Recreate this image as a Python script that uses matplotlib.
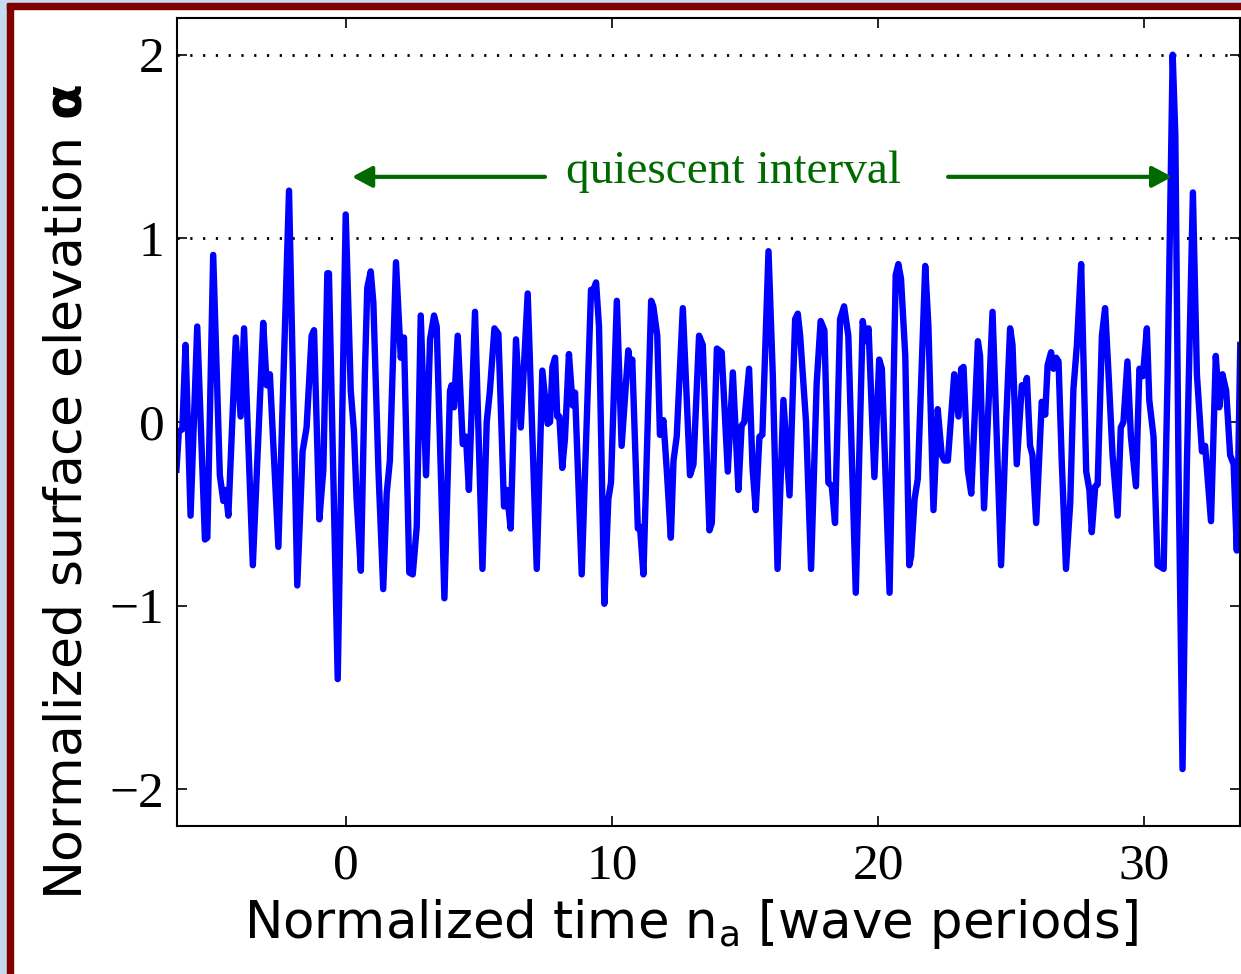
import matplotlib
matplotlib.use("Agg")
from matplotlib import pyplot as plt
from matplotlib.patches import Rectangle

# normalized time (wave periods) and surface elevation
t_periods = [
    -6.37, -6.28, -6.15, -6.03, -5.84, -5.59, -5.30, -5.21, -4.99, -4.74,
    -4.61, -4.52, -4.42, -4.14, -3.96, -3.83, -3.50, -3.11, -2.98, -2.86,
    -2.54, -2.14, -1.83, -1.63, -1.48, -1.29, -1.20, -1.00, -0.85, -0.70,
    -0.64, -0.31, -0.01, 0.18, 0.30, 0.40, 0.56, 0.71, 0.80, 0.93,
    1.03, 1.22, 1.40, 1.53, 1.65, 1.88, 2.06, 2.18, 2.38, 2.51,
    2.66, 2.81, 3.01, 3.16, 3.31, 3.41, 3.70, 3.91, 3.97, 4.06,
    4.20, 4.39, 4.51, 4.62, 4.85, 5.13, 5.29, 5.41, 5.58, 5.73,
    5.94, 6.04, 6.19, 6.39, 6.57, 6.83, 7.17, 7.38, 7.58, 7.67,
    7.76, 7.86, 7.94, 8.02, 8.13, 8.23, 8.38, 8.52, 8.61, 8.86,
    9.21, 9.30, 9.40, 9.51, 9.71, 9.86, 9.96, 10.18, 10.36, 10.61,
    10.68, 10.76, 10.97, 11.05, 11.18, 11.47, 11.55, 11.70, 11.80, 11.93,
    12.06, 12.21, 12.31, 12.43, 12.66, 12.93, 13.06, 13.27, 13.41, 13.66,
    13.75, 13.94, 14.12, 14.35, 14.54, 14.75, 14.87, 14.97, 15.15, 15.28,
    15.40, 15.54, 15.65, 15.88, 16.04, 16.22, 16.44, 16.67, 16.88, 16.98,
    17.07, 17.29, 17.48, 17.69, 17.84, 17.98, 18.13, 18.26, 18.38, 18.57,
    18.72, 18.88, 19.16, 19.42, 19.54, 19.64, 19.86, 20.04, 20.14, 20.43,
    20.66, 20.76, 20.86, 21.02, 21.17, 21.24, 21.37, 21.49, 21.77, 21.89,
    22.08, 22.24, 22.39, 22.49, 22.62, 22.86, 23.02, 23.12, 23.21, 23.37,
    23.50, 23.62, 23.75, 23.83, 23.98, 24.30, 24.62, 24.81, 24.96, 25.05,
    25.21, 25.40, 25.49, 25.59, 25.71, 25.80, 25.94, 26.15, 26.28, 26.37,
    26.50, 26.59, 26.69, 26.78, 26.90, 27.06, 27.22, 27.34, 27.47, 27.63,
    27.82, 27.94, 28.03, 28.16, 28.25, 28.41, 28.53, 28.66, 28.81, 29.00,
    29.12, 29.22, 29.37, 29.50, 29.69, 29.82, 29.95, 30.10, 30.19, 30.35,
    30.50, 30.63, 30.73, 30.88, 31.07, 31.17, 31.29, 31.44, 31.60, 31.83,
    31.98, 32.17, 32.29, 32.51, 32.69, 32.82, 32.94, 33.08, 33.23, 33.36,
    33.48, 33.61,
]
elevation = [
    -0.26, -0.05, -0.04, 0.42, -0.51, 0.52, -0.64, -0.63, 0.91, -0.29,
    -0.43, -0.37, -0.51, 0.46, 0.03, 0.51, -0.78, 0.54, 0.20, 0.26,
    -0.68, 1.26, -0.89, -0.16, -0.03, 0.47, 0.50, -0.53, -0.26, 0.81,
    0.81, -1.40, 1.13, 0.17, -0.05, -0.42, -0.81, 0.26, 0.73, 0.82,
    0.65, -0.26, -0.91, -0.39, -0.21, 0.87, 0.35, 0.46, -0.82, -0.83,
    -0.57, 0.58, -0.29, 0.45, 0.58, 0.52, -0.96, 0.17, 0.20, 0.08,
    0.47, -0.12, -0.08, -0.37, 0.60, -0.80, 0.00, 0.17, 0.51, 0.48,
    -0.46, -0.37, -0.58, 0.45, -0.03, 0.70, -0.80, 0.28, -0.01, 0.00,
    0.30, 0.35, 0.03, 0.03, -0.25, -0.09, 0.37, 0.09, 0.16, -0.83,
    0.72, 0.72, 0.76, 0.52, -0.99, -0.42, -0.33, 0.66, -0.13, 0.39,
    0.30, 0.34, -0.58, -0.57, -0.83, 0.66, 0.63, 0.47, -0.07, 0.01,
    -0.27, -0.63, -0.21, -0.08, 0.62, -0.29, -0.23, 0.47, 0.42, -0.59,
    -0.55, 0.40, 0.38, -0.27, 0.27, -0.37, -0.02, 0.00, 0.29, -0.25,
    -0.48, -0.08, -0.07, 0.93, 0.26, -0.80, 0.12, -0.40, 0.56, 0.59,
    0.47, 0.00, -0.80, 0.21, 0.55, 0.50, -0.33, -0.35, -0.55, 0.56,
    0.63, 0.47, -0.93, 0.55, 0.44, 0.51, -0.30, 0.34, 0.29, -0.93,
    0.80, 0.86, 0.78, 0.36, -0.78, -0.73, -0.42, -0.31, 0.85, 0.52,
    -0.48, 0.07, -0.18, -0.21, -0.21, 0.26, 0.03, 0.29, 0.30, -0.26,
    -0.39, 0.00, 0.44, 0.36, -0.47, 0.60, -0.78, 0.00, 0.51, 0.42,
    -0.23, 0.20, 0.16, 0.24, -0.13, -0.18, -0.55, 0.11, 0.04, 0.31,
    0.38, 0.29, 0.35, 0.33, -0.21, -0.80, -0.44, 0.18, 0.42, 0.86,
    -0.27, -0.37, -0.60, -0.35, -0.34, 0.47, 0.62, 0.26, -0.18, -0.51,
    -0.03, 0.00, 0.33, -0.08, -0.35, 0.29, 0.25, 0.51, 0.12, -0.08,
    -0.78, -0.79, -0.80, 0.26, 2.00, 1.56, -0.26, -1.89, -0.26, 1.25,
    0.26, -0.16, -0.13, -0.54, 0.36, 0.08, 0.26, 0.17, -0.18, -0.23,
    -0.70, 0.42,
]
x_ticks = [0, 10, 20, 30]
y_ticks = [-2, -1, 0, 1, 2]
dotted_levels = [1, 2]
interval_start = 0.23
interval_end = 31.05

green = "#006a00"
serif = ["Liberation Serif", "DejaVu Serif"]

fig = plt.figure(figsize=(12.41, 9.74), dpi=100)
ax = fig.add_axes([177 / 1241, 1 - 826 / 974, 1063 / 1241, 808 / 974])

ax.plot(t_periods, elevation, color="#0000ff", lw=4.6, solid_joinstyle="round")
for lev in dotted_levels:
    ax.axhline(lev, color="black", lw=2.0, ls=(0, (0.8, 3.8)), zorder=0)

ax.set_xlim(-6.35, 33.6)
ax.set_ylim(-2.2, 2.2)
ax.set_xticks(x_ticks)
ax.set_yticks(y_ticks)
ax.tick_params(direction="in", length=7, width=1.2, top=True, right=True,
               labelsize=37, pad=9)
ax.tick_params(axis="x", pad=12)
for lab in ax.get_xticklabels() + ax.get_yticklabels():
    lab.set_family(serif)
for sp in ax.spines.values():
    sp.set_linewidth(1.5)

# quiescent interval annotation
arrow = dict(arrowstyle="-|>,head_length=0.6,head_width=0.32", lw=3,
             color=green, mutation_scale=20, shrinkA=0, shrinkB=0)
ax.annotate("", xy=(interval_start, 1.335), xytext=(7.48, 1.335), arrowprops=arrow)
ax.annotate("", xy=(interval_end, 1.335), xytext=(22.63, 1.335), arrowprops=arrow)
ax.text(14.57, 1.30, "quiescent interval", color=green, fontsize=34,
        family=serif, ha="center", va="baseline")

plt.rcParams["mathtext.fontset"] = "dejavusans"
fig.text(691 / 1241, 1 - 938 / 974, r"Normalized time n$_\mathregular{a}$ [wave periods]",
         fontsize=37, ha="center", va="baseline")
fig.text(68 / 1241, 1 - 492 / 974, r"Normalized surface elevation $\mathbf{\alpha}$",
         fontsize=37.5, ha="center", va="center", rotation=90)

# slide frame strips on the left and top
fig.patches.append(Rectangle((0, 0), 7 / 1241, 1, transform=fig.transFigure,
                             color="#c5dcf0", zorder=-1))
fig.patches.append(Rectangle((7 / 1241, 0), 6 / 1241, 1, transform=fig.transFigure,
                             color="#800000", zorder=-1))
fig.patches.append(Rectangle((0, 1 - 3 / 974), 1, 3 / 974, transform=fig.transFigure,
                             color="#c5dcf0", zorder=-1))
fig.patches.append(Rectangle((7 / 1241, 1 - 9 / 974), 1, 6 / 974, transform=fig.transFigure,
                             color="#800000", zorder=-1))

fig.savefig("out.png", dpi=100)
